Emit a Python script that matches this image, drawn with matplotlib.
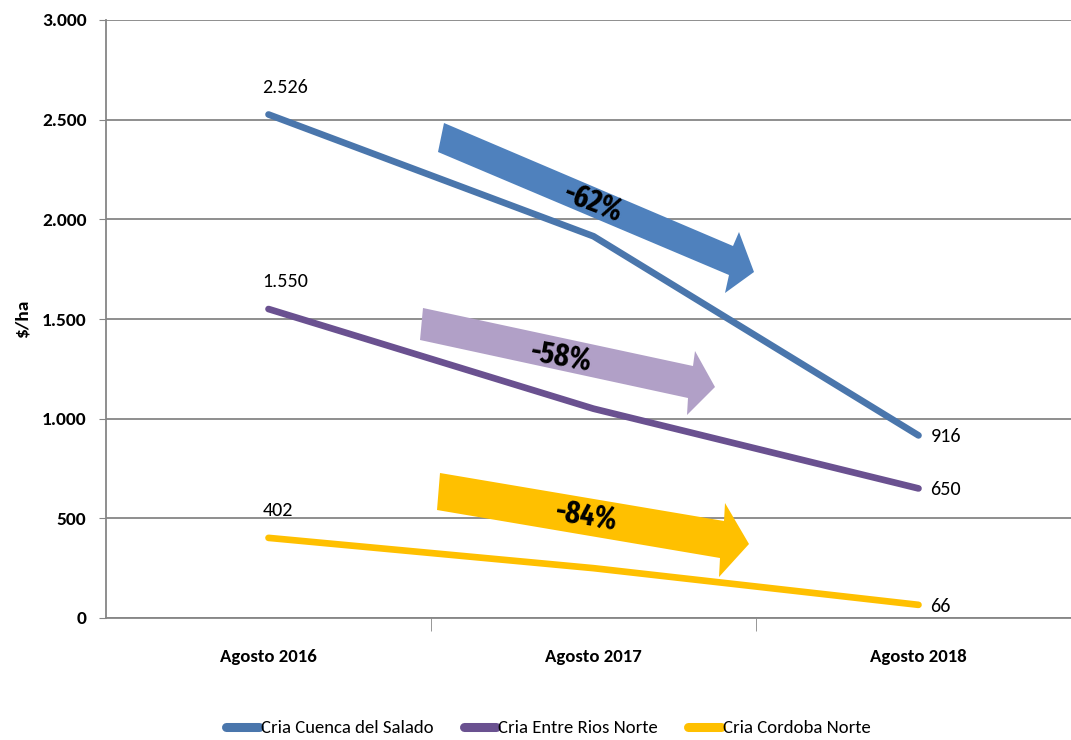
import numpy as np
import matplotlib
matplotlib.use("Agg")
import matplotlib.pyplot as plt
from matplotlib.patches import Polygon
from matplotlib.ticker import FuncFormatter

plt.rcParams['font.family'] = ['Carlito', 'DejaVu Sans']

# --- data ---
periods = ["Agosto 2016", "Agosto 2017", "Agosto 2018"]
series_names = ["Cria Cuenca del Salado", "Cria Entre Rios Norte", "Cria Cordoba Norte"]
salado = [2526, 1915, 916]
entre_rios = [1550, 1050, 650]
cordoba = [402, 250, 66]
changes = ["-62%", "-58%", "-84%"]

line_colors = ["#4A76AC", "#6A5190", "#FFC000"]
arrow_colors = ["#4F81BD", "#B1A0C7", "#FFC000"]

W, H = 1071, 740
fig = plt.figure(figsize=(W / 100, H / 100), dpi=100)
ax = fig.add_axes([106 / W, 1 - 618 / H, 1 - 106 / W, (618 - 20) / H])

x = np.arange(len(periods))
for vals, name, col in zip([salado, entre_rios, cordoba], series_names, line_colors):
    ax.plot(x, vals, color=col, lw=4.8, solid_capstyle='round', label=name, zorder=3)


def fmt(v):
    return f"{int(v):,}".replace(",", ".")


# data labels: first point above, last point to the right
for vals in [salado, entre_rios, cordoba]:
    ax.annotate(fmt(vals[0]), (x[0], vals[0]), xytext=(-4.5, 19.5),
                textcoords='offset points', ha='left', va='center', fontsize=14.5)
    ax.annotate(fmt(vals[-1]), (x[-1], vals[-1]), xytext=(8.5, -1),
                textcoords='offset points', ha='left', va='center', fontsize=14.5)

ax.set_xlim(-0.5, -0.5 + (W - 106) / 325)
ax.set_ylim(0, 3000)
ax.set_yticks(np.arange(0, 3001, 500))
ax.yaxis.set_major_formatter(FuncFormatter(lambda v, p: fmt(v)))
ax.set_xticks(x)
ax.set_xticklabels(periods)
ax.set_xticks([0.5, 1.5], minor=True)
ax.tick_params(axis='x', which='major', length=0, pad=22, labelsize=13.5)
ax.tick_params(axis='x', which='minor', length=9, color='#868686', direction='out')
ax.tick_params(axis='y', length=5, color='#868686', labelsize=14, pad=9)
for lab in ax.get_xticklabels() + ax.get_yticklabels():
    lab.set_fontweight('bold')
ax.grid(axis='y', color='#868686', lw=1.3)
ax.set_axisbelow(True)
for s in ['top', 'right']:
    ax.spines[s].set_visible(False)
for s in ['left', 'bottom']:
    ax.spines[s].set_color('#868686')
    ax.spines[s].set_linewidth(1.3)
ax.set_ylabel("$/ha", fontsize=14, fontweight='bold', labelpad=8)

# block arrows (annotation shapes, figure pixels from top-left)
arrow_shapes = [
    [(444, 123), (733, 246), (739, 232), (754, 272), (725, 293), (729, 275), (438, 152)],
    [(423, 308), (693, 366), (695, 351), (715, 387), (687, 415), (688, 398), (420, 340)],
    [(440, 473), (724, 521), (725, 503), (749, 544), (719, 577), (720, 558), (437, 510)],
]
for shape, col in zip(arrow_shapes, arrow_colors):
    pts = [(px / W, 1 - py / H) for px, py in shape]
    fig.patches.append(Polygon(pts, closed=True, transform=fig.transFigure,
                               facecolor=col, edgecolor='none', zorder=5))

label_pos = [(593, 204, -21), (561, 358, -10), (586, 518, -9)]
for txt, (px, py, rot) in zip(changes, label_pos):
    fig.text(px / W, 1 - py / H, txt, fontsize=22, fontweight='bold', fontstyle='normal',
             rotation=rot, ha='center', va='center', zorder=6,
             family=['Fira Sans Extra Condensed', 'Carlito', 'DejaVu Sans'])

leg = fig.legend(loc='center', bbox_to_anchor=(0.512, 1 - 728 / H), ncol=3, frameon=False,
                 fontsize=13.5, handlelength=1.75, handletextpad=0.1, columnspacing=1.6)
for h in leg.get_lines():
    h.set_linewidth(6.5)
    h.set_solid_capstyle('round')

fig.savefig("out.png", dpi=100)
